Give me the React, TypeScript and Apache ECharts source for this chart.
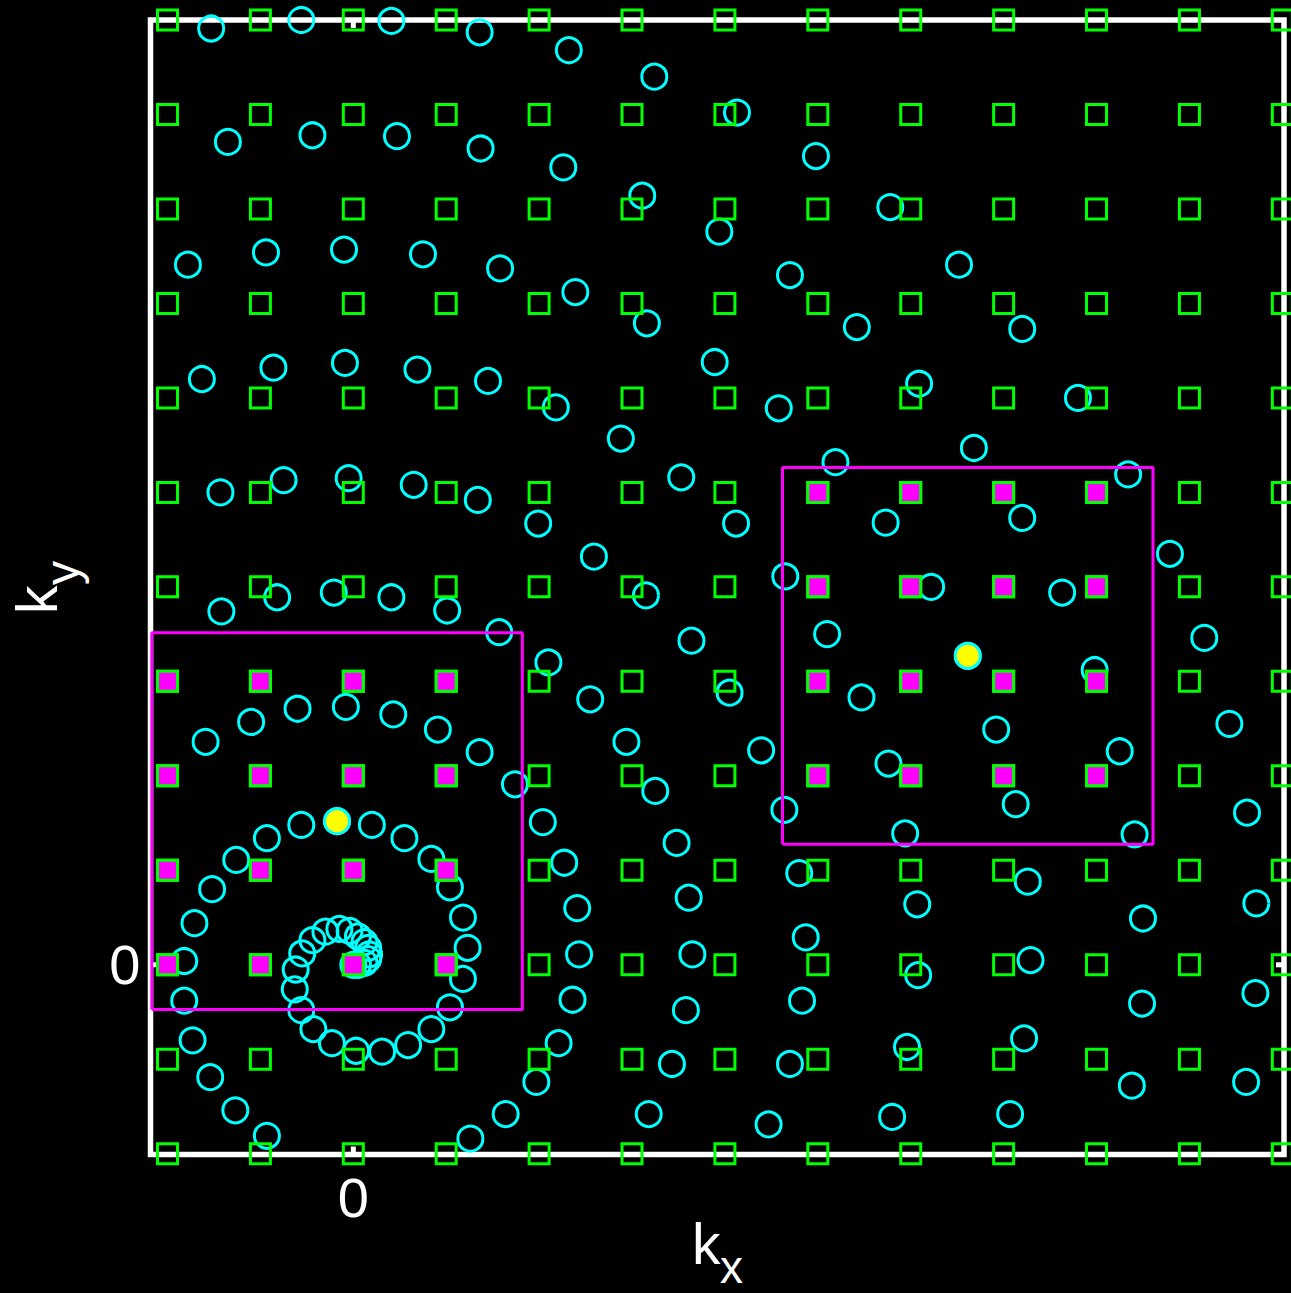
import React, { useEffect, useRef } from "react";
import * as echarts from "echarts";

const X_RANGE = [-2.183, 10.018];
const Y_RANGE = [-2.008, 10.0];

const latticeX = [-2, -1, 0, 1, 2, 3, 4, 5, 6, 7, 8, 9, 10];
const latticeY = [-2, -1, 0, 1, 2, 3, 4, 5, 6, 7, 8, 9, 10];

const highlightPoints = [
  [-0.175, 1.52],
  [6.614, 3.27],
];
const boxHalfSide = 1.994;

const tickValues = [0];

const cyanPoints = [
  [-1.53, 9.91], [-0.56, 10.0], [0.41, 9.99], [1.36, 9.87], [2.32, 9.68], [3.24, 9.4], [4.13, 9.02],
  [-1.35, 8.71], [-0.44, 8.78], [0.47, 8.77], [1.37, 8.64], [2.26, 8.44], [3.11, 8.14], [3.94, 7.76],
  [4.98, 8.56], [5.78, 8.02],
  [-1.78, 7.41], [-0.94, 7.54], [-0.1, 7.57], [0.75, 7.52], [1.58, 7.37], [2.39, 7.12], [3.16, 6.79],
  [3.89, 6.38], [4.7, 7.3], [5.42, 6.75], [6.52, 7.41], [7.2, 6.73],
  [-1.63, 6.2], [-0.86, 6.32], [-0.09, 6.37], [0.69, 6.3], [1.45, 6.18], [2.18, 5.9], [2.88, 5.57],
  [3.53, 5.16], [4.58, 5.89], [6.09, 6.15], [7.8, 6.0], [6.68, 5.47], [5.19, 5.32],
  [-1.43, 5.0], [-0.75, 5.13], [-0.05, 5.15], [0.65, 5.08], [1.34, 4.92], [1.99, 4.67], [2.59, 4.32],
  [4.12, 4.67], [5.73, 4.68], [7.2, 4.73], [8.34, 5.19], [8.79, 4.35],
  [-1.42, 3.74], [-0.82, 3.89], [-0.21, 3.94], [0.41, 3.89], [1.01, 3.75], [1.57, 3.52], [2.1, 3.2],
  [2.55, 2.81], [3.15, 3.91], [3.64, 3.43], [4.65, 4.11], [5.1, 3.5], [6.22, 4.0], [7.63, 3.94],
  [9.16, 3.46], [4.05, 2.88], [5.47, 2.83], [7.98, 3.12], [9.43, 2.55], [6.92, 2.49],
  [2.94, 2.36], [4.39, 2.27], [5.76, 2.13], [8.25, 2.26],
  [-1.59, 2.36], [-1.1, 2.57], [-0.6, 2.71], [-0.08, 2.73], [0.43, 2.65], [0.91, 2.49], [1.36, 2.25],
  [1.74, 1.91], [2.04, 1.51], [2.27, 1.08], [2.41, 0.6], [2.43, 0.11], [2.36, -0.37], [2.21, -0.83],
  [1.97, -1.24], [1.64, -1.58], [1.26, -1.84],
  [3.25, 1.84], [3.48, 1.29], [3.61, 0.71], [3.65, 0.11], [3.58, -0.48], [3.43, -1.05], [3.18, -1.58],
  [4.64, 1.64], [4.8, 0.97], [4.87, 0.29], [4.83, -0.38], [4.7, -1.05], [4.47, -1.69],
  [5.94, 1.39], [6.07, 0.64], [6.08, -0.11], [5.96, -0.87], [5.8, -1.61],
  [7.13, 1.7], [7.26, 0.88], [7.29, 0.05], [7.22, -0.78], [7.07, -1.58],
  [8.41, 1.38], [8.5, 0.49], [8.49, -0.41], [8.38, -1.28],
  [9.62, 1.61], [9.72, 0.65], [9.71, -0.3], [9.61, -1.24],
  [-0.175, 1.52], [6.614, 3.27],
  [0.2, 1.48], [-0.56, 1.48], [0.55, 1.34], [-0.93, 1.34], [0.84, 1.12], [-1.26, 1.11],
  [1.04, 0.82], [-1.52, 0.8], [1.18, 0.5], [-1.71, 0.44], [1.23, 0.18], [-1.82, 0.04],
  [1.18, -0.15], [-1.82, -0.38], [1.04, -0.45], [-1.73, -0.8], [0.84, -0.68], [-1.54, -1.19],
  [0.59, -0.85], [-1.27, -1.54], [0.31, -0.92], [-0.93, -1.81], [0.03, -0.91], [-0.23, -0.83],
  [-0.43, -0.68], [-0.56, -0.48], [-0.63, -0.26], [-0.62, -0.05], [-0.55, 0.12], [-0.44, 0.26],
  [-0.3, 0.35], [-0.15, 0.38], [-0.04, 0.36], [0.05, 0.3], [0.12, 0.24], [0.16, 0.18], [0.17, 0.11],
  [0.16, 0.06], [0.12, 0.02], [0.05, 0.0], [0.0, 0.0],
];

const FONT = "Liberation Sans";
const WHITE = "#ffffff";
const GREEN = "#00ff00";
const CYAN = "#00ffff";
const MAGENTA = "#ff00ff";
const YELLOW = "#ffff00";

const textStyle = (text: string, size: number) => ({
  text,
  fill: WHITE,
  fontSize: size,
  fontFamily: FONT,
  align: "left",
  verticalAlign: "middle",
  textAlign: "left",
  textVerticalAlign: "middle",
});

export default function App() {
  const ref = useRef<HTMLDivElement>(null);

  useEffect(() => {
    document.body.style.margin = "0";
    document.body.style.background = "#000";
    const chart = echarts.init(ref.current!, null, { renderer: "svg" });

    const lattice: number[][] = [];
    latticeY.forEach((y) => latticeX.forEach((x) => lattice.push([x, y])));

    const inBox: number[][] = lattice.filter((p) =>
      highlightPoints.some(
        (c) => Math.abs(p[0] - c[0]) < boxHalfSide && Math.abs(p[1] - c[1]) < boxHalfSide
      )
    );

    const boxSeries = highlightPoints.map((c) => ({
      type: "line",
      data: [
        [c[0] - boxHalfSide, c[1] - boxHalfSide],
        [c[0] + boxHalfSide, c[1] - boxHalfSide],
        [c[0] + boxHalfSide, c[1] + boxHalfSide],
        [c[0] - boxHalfSide, c[1] + boxHalfSide],
        [c[0] - boxHalfSide, c[1] - boxHalfSide],
      ],
      symbol: "none",
      clip: false,
      lineStyle: { color: MAGENTA, width: 3, opacity: 1 },
      z: 5,
      silent: true,
    }));

    const TICK_LEN = 8;
    const tickStyle = { stroke: WHITE, lineWidth: 5 };

    const axisCommon = {
      type: "value",
      splitLine: { show: false },
      axisLine: { show: false },
      axisTick: { show: false },
    };

    chart.setOption({
      animation: false,
      backgroundColor: "#000",
      grid: {
        left: 150.5,
        right: 7,
        top: 20,
        bottom: 138.5,
        show: true,
        borderColor: WHITE,
        borderWidth: 5.5,
        backgroundColor: "transparent",
      },
      xAxis: [
        {
          ...axisCommon,
          position: "bottom",
          min: X_RANGE[0],
          max: X_RANGE[1],
          axisLabel: {
            customValues: tickValues,
            color: WHITE,
            fontSize: 56,
            fontFamily: FONT,
            margin: 15,
          },
        },
      ],
      yAxis: [
        {
          ...axisCommon,
          position: "left",
          min: Y_RANGE[0],
          max: Y_RANGE[1],
          axisLabel: {
            customValues: tickValues,
            color: WHITE,
            fontSize: 56,
            fontFamily: FONT,
            margin: 10,
          },
        },
      ],
      graphic: [
        { type: "text", x: 692, y: 1244, style: textStyle("k", 57), z: 10 },
        { type: "text", x: 720, y: 1267, style: textStyle("x", 46), z: 10 },
        { type: "text", x: 37, y: 614, rotation: Math.PI / 2, style: textStyle("k", 57), z: 10 },
        { type: "text", x: 62, y: 585, rotation: Math.PI / 2, style: textStyle("y", 48), z: 10 },
      ],
      series: [
        {
          type: "custom",
          data: tickValues.map((v) => [v, v]),
          clip: false,
          silent: true,
          z: 1,
          renderItem: (params: any, api: any) => {
            const cs = params.coordSys;
            const left = cs.x;
            const right = cs.x + cs.width;
            const top = cs.y;
            const bottom = cs.y + cs.height;
            const px = api.coord([api.value(0), Y_RANGE[0]])[0];
            const py = api.coord([X_RANGE[0], api.value(1)])[1];
            return {
              type: "group",
              children: [
                { type: "line", shape: { x1: px, y1: bottom, x2: px, y2: bottom - TICK_LEN }, style: tickStyle },
                { type: "line", shape: { x1: px, y1: top, x2: px, y2: top + TICK_LEN }, style: tickStyle },
                { type: "line", shape: { x1: left, y1: py, x2: left + TICK_LEN, y2: py }, style: tickStyle },
                { type: "line", shape: { x1: right, y1: py, x2: right - TICK_LEN, y2: py }, style: tickStyle },
              ],
            };
          },
        },
        {
          type: "scatter",
          data: cyanPoints,
          symbol: "circle",
          symbolSize: 25,
          clip: false,
          itemStyle: { color: "rgba(0,0,0,0)", borderColor: CYAN, borderWidth: 3, opacity: 1 },
          z: 2,
          silent: true,
        },
        {
          type: "scatter",
          data: lattice,
          symbol: "rect",
          symbolSize: 20,
          clip: false,
          itemStyle: { color: "rgba(0,0,0,0)", borderColor: GREEN, borderWidth: 3, opacity: 1 },
          z: 3,
          silent: true,
        },
        {
          type: "scatter",
          data: inBox,
          symbol: "rect",
          symbolSize: 20,
          clip: false,
          itemStyle: { color: MAGENTA, borderColor: GREEN, borderWidth: 3, opacity: 1 },
          z: 4,
          silent: true,
        },
        ...boxSeries,
        {
          type: "scatter",
          data: highlightPoints,
          symbol: "circle",
          symbolSize: 25,
          clip: false,
          itemStyle: { color: YELLOW, borderColor: CYAN, borderWidth: 3, opacity: 1 },
          z: 6,
          silent: true,
        },
      ],
    });

    return () => chart.dispose();
  }, []);

  return (
    <div
      ref={ref}
      style={{ position: "fixed", left: 0, top: 0, width: 1291, height: 1293, background: "#000" }}
    />
  );
}
